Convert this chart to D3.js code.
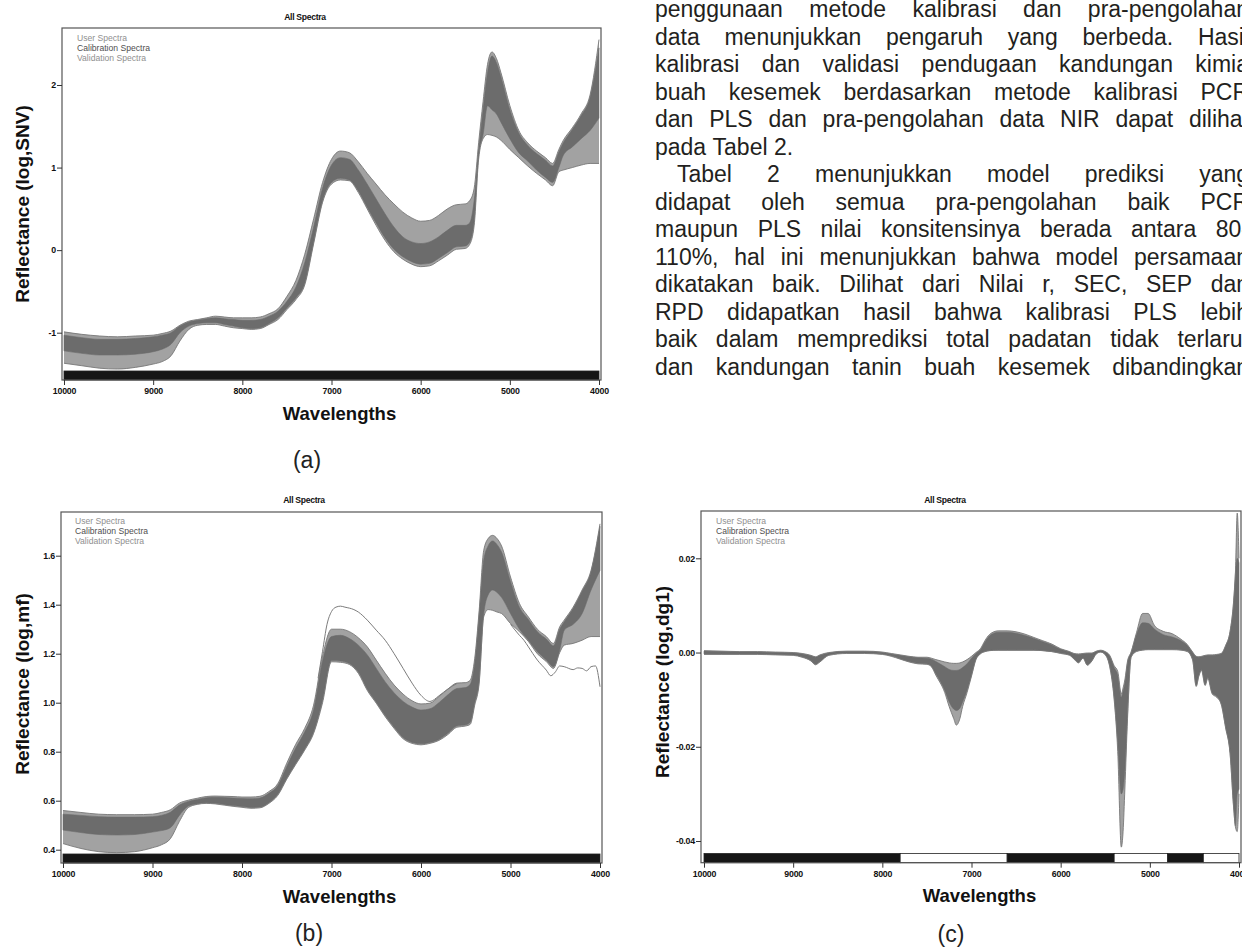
<!DOCTYPE html>
<html><head><meta charset="utf-8">
<script src="https://cdn.jsdelivr.net/npm/d3@7"></script>
<style>body{margin:0;background:#fff;overflow:hidden} svg{display:block}</style>
</head><body><svg id="c" width="1242" height="949"></svg>
<script>
// ---------------- DATA ----------------
const xTicks = [10000, 9000, 8000, 7000, 6000, 5000, 4000];
const legendItems = ["User Spectra", "Calibration Spectra", "Validation Spectra"];

// Panel (a) — log,SNV
const wlAB = [10000,9800,9600,9400,9200,9000,8900,8800,8700,8600,8500,8400,8300,8200,8100,8000,7900,7800,7700,7600,7500,7400,7300,7200,7100,7000,6900,6800,6700,6600,6500,6400,6300,6200,6100,6000,5900,5800,5700,5600,5500,5450,5400,5350,5300,5250,5200,5150,5100,5000,4900,4800,4700,4600,4520,4450,4400,4300,4200,4100,4000];
const aHi     = [-0.99,-1.02,-1.04,-1.05,-1.04,-1.03,-1.01,-0.98,-0.91,-0.86,-0.84,-0.82,-0.80,-0.81,-0.82,-0.82,-0.82,-0.81,-0.77,-0.71,-0.56,-0.37,-0.05,0.38,0.82,1.10,1.20,1.18,1.07,0.93,0.80,0.67,0.56,0.46,0.39,0.35,0.36,0.42,0.50,0.55,0.56,0.60,0.75,1.30,1.80,2.25,2.40,2.32,2.15,1.75,1.45,1.30,1.20,1.12,1.05,1.22,1.33,1.48,1.65,1.88,2.55];
const aCoreHi = [-1.03,-1.06,-1.08,-1.08,-1.07,-1.05,-1.03,-1.00,-0.92,-0.87,-0.85,-0.83,-0.82,-0.83,-0.84,-0.85,-0.85,-0.84,-0.80,-0.74,-0.62,-0.45,-0.15,0.28,0.75,1.03,1.12,1.10,0.97,0.80,0.62,0.44,0.28,0.16,0.10,0.08,0.10,0.16,0.24,0.30,0.30,0.33,0.60,1.20,1.70,2.15,2.35,2.27,2.10,1.70,1.42,1.27,1.17,1.09,1.02,1.19,1.30,1.46,1.63,1.85,2.45];
const aCoreLo = [-1.22,-1.25,-1.27,-1.27,-1.26,-1.23,-1.20,-1.14,-1.00,-0.92,-0.89,-0.88,-0.88,-0.90,-0.92,-0.94,-0.95,-0.94,-0.89,-0.82,-0.70,-0.58,-0.40,0.10,0.60,0.82,0.87,0.85,0.72,0.52,0.33,0.15,0.01,-0.08,-0.14,-0.17,-0.16,-0.10,-0.03,0.04,0.05,0.10,0.35,1.15,1.40,1.75,1.70,1.65,1.55,1.35,1.18,1.08,0.97,0.88,0.82,1.00,1.15,1.25,1.35,1.45,1.60];
const aLo     = [-1.37,-1.40,-1.43,-1.44,-1.42,-1.38,-1.35,-1.28,-1.10,-0.96,-0.91,-0.90,-0.90,-0.92,-0.94,-0.95,-0.96,-0.95,-0.90,-0.84,-0.72,-0.60,-0.42,0.08,0.58,0.80,0.85,0.84,0.70,0.50,0.30,0.12,-0.02,-0.11,-0.17,-0.20,-0.19,-0.13,-0.06,0.01,0.02,0.07,0.30,1.10,1.35,1.40,1.39,1.37,1.33,1.22,1.12,1.02,0.93,0.85,0.78,0.95,0.97,1.00,1.03,1.05,1.05];
const aYTicks = [-1, 0, 1, 2];

// Panel (b) — log,mf
const bHi     = [0.560,0.552,0.545,0.543,0.543,0.545,0.552,0.563,0.590,0.602,0.610,0.617,0.619,0.618,0.617,0.615,0.615,0.618,0.637,0.670,0.753,0.830,0.895,0.990,1.190,1.300,1.300,1.290,1.265,1.228,1.174,1.120,1.072,1.035,1.008,0.995,0.998,1.025,1.055,1.080,1.082,1.092,1.180,1.377,1.620,1.670,1.683,1.670,1.640,1.513,1.405,1.350,1.300,1.270,1.242,1.310,1.337,1.390,1.460,1.540,1.730];
const bCoreHi = [0.545,0.540,0.535,0.533,0.533,0.535,0.540,0.553,0.582,0.597,0.605,0.612,0.614,0.613,0.611,0.609,0.608,0.611,0.630,0.662,0.740,0.815,0.880,0.970,1.170,1.270,1.275,1.262,1.235,1.195,1.140,1.085,1.040,1.005,0.982,0.970,0.975,1.000,1.032,1.058,1.062,1.075,1.160,1.360,1.580,1.640,1.660,1.645,1.615,1.495,1.390,1.340,1.290,1.260,1.232,1.300,1.330,1.385,1.455,1.535,1.720];
const bCoreLo = [0.480,0.470,0.462,0.460,0.462,0.472,0.478,0.490,0.540,0.578,0.588,0.592,0.590,0.585,0.580,0.576,0.572,0.574,0.592,0.626,0.692,0.752,0.810,0.880,1.010,1.172,1.170,1.160,1.125,1.055,1.002,0.948,0.900,0.858,0.838,0.832,0.838,0.850,0.875,0.905,0.910,0.920,1.000,1.090,1.360,1.440,1.460,1.450,1.430,1.364,1.300,1.255,1.208,1.174,1.147,1.215,1.296,1.320,1.364,1.460,1.540];
const bLo     = [0.425,0.405,0.392,0.388,0.392,0.408,0.420,0.445,0.515,0.572,0.585,0.589,0.587,0.582,0.577,0.573,0.569,0.571,0.589,0.622,0.688,0.748,0.806,0.875,1.000,1.167,1.165,1.156,1.120,1.050,0.998,0.943,0.895,0.853,0.834,0.828,0.834,0.846,0.870,0.900,0.905,0.912,0.990,1.080,1.350,1.380,1.377,1.370,1.364,1.323,1.290,1.250,1.200,1.168,1.140,1.205,1.235,1.242,1.255,1.270,1.270];
const bOutlierHigh = [[7150,1.100],[7100,1.210],[7050,1.320],[7000,1.372],[6950,1.390],[6900,1.394],[6850,1.390],[6750,1.380],[6700,1.370],[6600,1.337],[6500,1.296],[6400,1.255],[6300,1.200],[6200,1.140],[6100,1.080],[6000,1.030],[5900,1.005],[5800,1.028],[5700,1.056],[5600,1.078]];
const bOutlierLow  = [[5000,1.320],[4900,1.275],[4850,1.255],[4800,1.228],[4700,1.174],[4600,1.133],[4550,1.110],[4500,1.125],[4450,1.150],[4400,1.147],[4300,1.135],[4250,1.142],[4200,1.140],[4150,1.130],[4100,1.147],[4050,1.150],[4000,1.065]];
const bYTicks = [0.4, 0.6, 0.8, 1.0, 1.2, 1.4, 1.6];

// Panel (c) — log,dg1
const wlC = [10000,9800,9600,9400,9200,9000,8900,8800,8750,8700,8600,8400,8200,8000,7900,7800,7700,7600,7500,7450,7400,7300,7250,7200,7170,7130,7100,7050,7000,6950,6900,6850,6800,6700,6600,6500,6400,6300,6200,6100,6000,5900,5850,5800,5750,5700,5650,5600,5550,5500,5450,5400,5360,5320,5300,5280,5250,5210,5150,5080,5020,4950,4850,4750,4650,4580,4520,4480,4450,4420,4380,4350,4300,4250,4200,4150,4100,4060,4040,4020,4000];
const cHi = [0.0004,0.0003,0.0002,0.0002,0.0001,0.0000,-0.0002,-0.0006,-0.0009,-0.0005,0.0000,0.0003,0.0003,0.0001,-0.0002,-0.0005,-0.0008,-0.0010,-0.0010,-0.0012,-0.0015,-0.0020,-0.0022,-0.0023,-0.0023,-0.0022,-0.0020,-0.0015,-0.0008,0.0000,0.0008,0.0025,0.0038,0.0046,0.0046,0.0044,0.0039,0.0032,0.0025,0.0018,0.0008,0.0002,-0.0002,-0.0003,-0.0002,-0.0001,-0.0001,0.0003,0.0005,0.0002,-0.0006,-0.0028,-0.0040,-0.0088,-0.0075,-0.0058,-0.0018,0.0001,0.0042,0.0083,0.0083,0.0058,0.0045,0.0040,0.0028,0.0017,0.0001,-0.0008,-0.0009,-0.0008,-0.0006,-0.0005,-0.0005,-0.0004,-0.0002,0.0015,0.0045,0.0110,0.0170,0.0296,0.0200];
const cCoreHi = [0.0003,0.0002,0.0001,0.0001,0.0000,-0.0001,-0.0003,-0.0007,-0.0010,-0.0006,-0.0001,0.0002,0.0002,0.0000,-0.0003,-0.0006,-0.0009,-0.0011,-0.0012,-0.0014,-0.0019,-0.0030,-0.0036,-0.0038,-0.0038,-0.0036,-0.0032,-0.0024,-0.0012,-0.0002,0.0006,0.0022,0.0035,0.0043,0.0043,0.0041,0.0036,0.0030,0.0023,0.0016,0.0007,0.0001,-0.0003,-0.0004,-0.0003,-0.0002,-0.0002,0.0002,0.0004,0.0001,-0.0008,-0.0032,-0.0048,-0.0095,-0.0082,-0.0065,-0.0022,0.0000,0.0038,0.0063,0.0062,0.0050,0.0038,0.0033,0.0025,0.0015,0.0000,-0.0009,-0.0010,-0.0009,-0.0007,-0.0006,-0.0006,-0.0005,-0.0003,0.0014,0.0044,0.0108,0.0168,0.0200,0.0190];
const cCoreLo = [-0.0003,-0.0003,-0.0003,-0.0003,-0.0004,-0.0005,-0.0009,-0.0017,-0.0025,-0.0019,-0.0005,-0.0001,-0.0001,-0.0003,-0.0007,-0.0013,-0.0019,-0.0023,-0.0024,-0.0029,-0.0045,-0.0080,-0.0105,-0.0120,-0.0123,-0.0118,-0.0105,-0.0080,-0.0048,-0.0014,-0.0002,0.0002,0.0004,0.0005,0.0005,0.0005,0.0005,0.0005,0.0004,0.0002,-0.0001,-0.0005,-0.0013,-0.0021,-0.0011,-0.0026,-0.0017,-0.0002,0.0001,-0.0004,-0.0028,-0.0095,-0.0190,-0.0300,-0.0290,-0.0250,-0.0130,-0.0009,0.0003,0.0006,0.0007,0.0007,0.0007,0.0007,0.0006,0.0003,-0.0015,-0.0070,-0.0048,-0.0036,-0.0068,-0.0053,-0.0086,-0.0093,-0.0108,-0.0158,-0.0213,-0.0328,-0.0368,-0.0300,-0.0290];
const cLo = [-0.0004,-0.0004,-0.0004,-0.0004,-0.0005,-0.0006,-0.0010,-0.0018,-0.0026,-0.0020,-0.0006,-0.0002,-0.0002,-0.0004,-0.0008,-0.0014,-0.0020,-0.0024,-0.0025,-0.0030,-0.0048,-0.0085,-0.0115,-0.0140,-0.0154,-0.0140,-0.0115,-0.0085,-0.0050,-0.0015,-0.0003,0.0002,0.0004,0.0005,0.0005,0.0005,0.0005,0.0005,0.0004,0.0002,-0.0002,-0.0006,-0.0014,-0.0022,-0.0012,-0.0027,-0.0018,-0.0003,0.0001,-0.0005,-0.0030,-0.0100,-0.0210,-0.0413,-0.0380,-0.0290,-0.0140,-0.0010,0.0002,0.0005,0.0006,0.0006,0.0006,0.0006,0.0005,0.0002,-0.0016,-0.0072,-0.0050,-0.0038,-0.0070,-0.0055,-0.0088,-0.0095,-0.0110,-0.0160,-0.0215,-0.0330,-0.0370,-0.0380,-0.0300];
const cYTicks = [-0.04, -0.02, 0.00, 0.02];
const cBarSegments = [[10000,7800,1],[7800,6600,0],[6600,5400,1],[5400,4800,0],[4800,4400,1],[4400,4000,0]];
const abBarSegments = [[10000,4000,1]];

// Paragraph text (Indonesian)
const paraLines = [
  ["penggunaan metode kalibrasi dan pra-pengolahan", 0, true],
  ["data menunjukkan pengaruh yang berbeda. Hasil", 0, true],
  ["kalibrasi dan validasi pendugaan kandungan kimia", 0, true],
  ["buah kesemek berdasarkan metode kalibrasi PCR", 0, true],
  ["dan PLS dan pra-pengolahan data NIR dapat dilihat", 0, true],
  ["pada Tabel 2.", 0, false],
  ["Tabel 2 menunjukkan model prediksi yang", 22, true],
  ["didapat oleh semua pra-pengolahan baik PCR", 0, true],
  ["maupun PLS nilai konsitensinya berada antara 80-", 0, true],
  ["110%, hal ini menunjukkan bahwa model persamaan", 0, true],
  ["dikatakan baik. Dilihat dari Nilai r, SEC, SEP dan", 0, true],
  ["RPD didapatkan hasil bahwa kalibrasi PLS lebih", 0, true],
  ["baik dalam memprediksi total padatan tidak terlarut", 0, true],
  ["dan kandungan tanin buah kesemek dibandingkan", 0, true]
];

// ---------------- DRAWING ----------------
const FONT = "'Liberation Sans', Arial, Helvetica, sans-serif";
const svg = d3.select('#c');
svg.append('rect').attr('width',1242).attr('height',949).attr('fill','#fff');

const panels = [
  {id:'a', wl:wlAB, hi:aHi, chi:aCoreHi, clo:aCoreLo, lo:aLo, outliers:[],
   left:62, right:601, top:28, barTop:371, barBottom:380, xr:[64,599],
   yd:[-1,2], yr:[332.7,85], yTicks:aYTicks, minor:0.2, fmt:v=>String(v),
   segs:abBarSegments, ylabel:"Reflectance (log,SNV)", ylx:29, yly:204,
   titleY:20, titleX:305, legX:77, legY:41, wlY:420, tag:"(a)", tagX:307, tagY:468},
  {id:'b', wl:wlAB, hi:bHi, chi:bCoreHi, clo:bCoreLo, lo:bLo, outliers:[bOutlierHigh,bOutlierLow],
   left:61, right:602, top:512, barTop:854, barBottom:863, xr:[63,600],
   yd:[0.4,1.6], yr:[849.7,555.7], yTicks:bYTicks, minor:0.04, fmt:v=>v.toFixed(1),
   segs:abBarSegments, ylabel:"Reflectance (log,mf)", ylx:29, yly:684,
   titleY:503, titleX:304, legX:75, legY:524, wlY:903, tag:"(b)", tagX:309, tagY:941},
  {id:'c', wl:wlC, hi:cHi, chi:cCoreHi, clo:cCoreLo, lo:cLo, outliers:[],
   left:701, right:1241, top:511, barTop:853.5, barBottom:862.7, xr:[704,1239],
   yd:[-0.04,0.02], yr:[841,558.3], yTicks:cYTicks, minor:0.004, fmt:v=>v.toFixed(2),
   segs:cBarSegments, ylabel:"Reflectance (log,dg1)", ylx:669, yly:682,
   titleY:502.5, titleX:945, legX:716, legY:523.5, wlY:902, tag:"(c)", tagX:951, tagY:942}
];

function drawPanel(p) {
  const g = svg.append('g');
  const x = d3.scaleLinear().domain([10000,4000]).range(p.xr);
  const y = d3.scaleLinear().domain(p.yd).range(p.yr);
  const curve = d3.curveMonotoneX;
  const clipId = 'clip' + p.id;
  svg.append('clipPath').attr('id', clipId).append('rect')
    .attr('x', p.left + 0.5).attr('y', p.top + 0.5)
    .attr('width', p.right - p.left - 1).attr('height', p.barTop - p.top - 0.5);
  const plot = g.append('g').attr('clip-path', `url(#${clipId})`);
  const rows = p.wl.map((w,i)=>({w, hi:p.hi[i], chi:p.chi[i], clo:p.clo[i], lo:p.lo[i]}));

  // sparse (outer) spectra zone
  plot.append('path').datum(rows)
    .attr('d', d3.area().x(d=>x(d.w)).y0(d=>y(d.lo)).y1(d=>y(d.hi)).curve(curve))
    .attr('fill', '#a2a2a2');
  // dense core of spectra
  plot.append('path').datum(rows)
    .attr('d', d3.area().x(d=>x(d.w)).y0(d=>y(d.clo)).y1(d=>y(d.chi)).curve(curve))
    .attr('fill', '#6c6c6c').attr('stroke', '#6c6c6c').attr('stroke-width', 0.6);
  // envelope spectra
  const ln = k => d3.line().x(d=>x(d.w)).y(d=>y(d[k])).curve(curve);
  ['hi','lo'].forEach(k => {
    plot.append('path').datum(rows).attr('d', ln(k)).attr('fill','none')
      .attr('stroke','#777').attr('stroke-width',0.9);
  });
  // individual outlier spectra
  p.outliers.forEach(o => {
    plot.append('path').datum(o)
      .attr('d', d3.line().x(d=>x(d[0])).y(d=>y(d[1])).curve(curve))
      .attr('fill','none').attr('stroke','#7c7c7c').attr('stroke-width',1);
  });

  // wavelength region bar
  g.selectAll(null).data(p.segs).join('rect')
    .attr('x', d=>x(d[0])).attr('width', d=>x(d[1])-x(d[0]))
    .attr('y', p.barTop).attr('height', p.barBottom - p.barTop)
    .attr('fill', d=>d[2] ? '#161616' : '#ffffff')
    .attr('stroke', '#222').attr('stroke-width', 0.8);

  // frame
  g.append('rect').attr('x', p.left).attr('y', p.top)
    .attr('width', p.right - p.left).attr('height', p.barBottom - p.top)
    .attr('fill','none').attr('stroke','#555').attr('stroke-width',1.2);

  // y axis
  const y0 = y.invert(p.barTop), y1 = y.invert(p.top);
  const minorY = [];
  for (let v = Math.ceil(y0 / p.minor - 1e-6) * p.minor; v <= y1 + 1e-9; v += p.minor) minorY.push(+v.toFixed(6));
  const ya = g.append('g').attr('transform', `translate(${p.left},0)`);
  ya.call(d3.axisLeft(y).tickValues(minorY).tickSize(3).tickFormat(''));
  ya.call(d3.axisLeft(y).tickValues(p.yTicks).tickSize(5).tickFormat(p.fmt));
  ya.selectAll('.domain').remove();
  ya.selectAll('line').attr('stroke','#333').attr('stroke-width',1);
  ya.selectAll('text').attr('font-family',FONT).attr('font-weight','bold')
    .attr('font-size','8.8px').attr('fill','#111').attr('x',-6).attr('letter-spacing','-0.2');

  // x axis
  const minorX = d3.range(10000, 3999, -200);
  const xa = g.append('g').attr('transform', `translate(0,${p.barBottom})`);
  xa.call(d3.axisBottom(x).tickValues(minorX).tickSize(4).tickFormat(''));
  xa.call(d3.axisBottom(x).tickValues(xTicks).tickSize(5).tickFormat(d3.format('d')));
  xa.selectAll('.domain').remove();
  xa.selectAll('line').attr('stroke','#333').attr('stroke-width',1);
  xa.selectAll('text').attr('font-family',FONT).attr('font-weight','bold')
    .attr('font-size','8.8px').attr('fill','#111').attr('y',8).attr('letter-spacing','-0.2');

  // title
  g.append('text').attr('x', p.titleX).attr('y', p.titleY).attr('text-anchor','middle')
    .attr('font-family',FONT).attr('font-weight','bold').attr('font-size','8.6px')
    .attr('letter-spacing','-0.3').attr('fill','#111').text('All Spectra');

  // legend
  const legCol = ['#8f8f8f', '#4f4f4f', '#8f8f8f'];
  legendItems.forEach((t,i) => {
    g.append('text').attr('x', p.legX).attr('y', p.legY + i*10)
      .attr('font-family',FONT).attr('font-size','8.6px').attr('fill',legCol[i]).text(t);
  });

  // axis titles
  g.append('text').attr('transform', `translate(${p.ylx},${p.yly}) rotate(-90)`)
    .attr('text-anchor','middle').attr('font-family',FONT).attr('font-weight','bold')
    .attr('font-size','19px').attr('fill','#111').text(p.ylabel);
  g.append('text').attr('x', (p.xr[0]+p.xr[1])/2 + 8).attr('y', p.wlY).attr('text-anchor','middle')
    .attr('font-family',FONT).attr('font-weight','bold').attr('font-size','18.5px')
    .attr('fill','#111').text('Wavelengths');
  g.append('text').attr('x', p.tagX).attr('y', p.tagY).attr('text-anchor','middle')
    .attr('font-family',FONT).attr('font-size','23px').attr('fill','#222').text(p.tag);
}
panels.forEach(drawPanel);

// justified paragraph
const textLeft = 655, textRight = 1249, baseline0 = 17, lineH = 27.5;
const tg = svg.append('g').attr('font-family', FONT).attr('font-size', '23px').attr('fill', '#231f20');
paraLines.forEach(([line, indent, justify], i) => {
  const words = line.split(' ');
  const yy = baseline0 + i * lineH;
  const nodes = words.map(w => tg.append('text').attr('y', yy).text(w));
  const widths = nodes.map(n => n.node().getComputedTextLength());
  const total = widths.reduce((a,b)=>a+b, 0);
  const startX = textLeft + indent;
  const gap = justify && words.length > 1 ? (textRight - startX - total) / (words.length - 1) : 6.4;
  let cx = startX;
  nodes.forEach((n, k) => { n.attr('x', cx); cx += widths[k] + gap; });
});
</script>
</body></html>
